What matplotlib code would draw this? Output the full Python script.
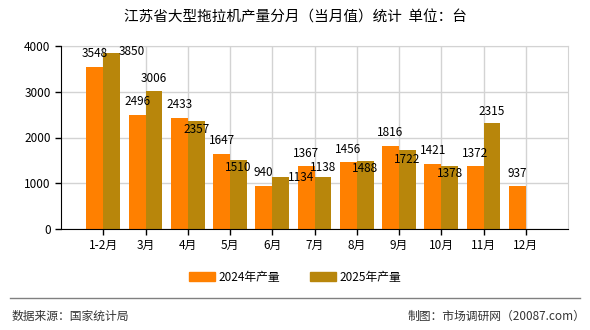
import numpy as np
import matplotlib.pyplot as plt
from matplotlib.patches import Patch

plt.rcParams['font.family'] = ['Noto Sans CJK SC', 'DejaVu Sans']

# Data
months = ['1-2月', '3月', '4月', '5月', '6月', '7月', '8月', '9月', '10月', '11月', '12月']
prod_2024 = [3548, 2496, 2433, 1647, 940, 1367, 1456, 1816, 1421, 1372, 937]
prod_2025 = [3850, 3006, 2357, 1510, 1134, 1138, 1488, 1722, 1378, 2315, None]

# label placement (pixel offsets for 2025 labels: dx, dy)
lab25_off = [(20, 1), (0, 13), (0, -8), (0, -8), (20, 0), (0, 9), (0, -8), (0, -9), (0, -8), (0, 12)]

c24 = '#FF8000'
c25 = '#B8860B'

fig = plt.figure(figsize=(5.9, 3.3), dpi=100)
ax = fig.add_axes([61 / 590, 1 - 229 / 330, 507 / 590, 183 / 330])

x = np.arange(len(months))
w = 0.4
ax.bar(x - w / 2, prod_2024, w, color=c24, zorder=3)
x25 = [i for i, v in enumerate(prod_2025) if v is not None]
v25 = [v for v in prod_2025 if v is not None]
ax.bar(np.array(x25) + w / 2, v25, w, color=c25, zorder=3)

for i, v in enumerate(prod_2024):
    ax.annotate(str(v), (i - w / 2, v), xytext=(0, 13), textcoords='offset pixels',
                ha='center', va='center', fontsize=8.5, zorder=5)
for (i, v), (dx, dy) in zip(zip(x25, v25), lab25_off):
    ax.annotate(str(v), (i + w / 2, v), xytext=(dx, dy), textcoords='offset pixels',
                ha='center', va='center', fontsize=8.5, zorder=5)

ax.set_xlim(-1, len(months))
ax.set_ylim(0, 4000)
ax.set_yticks(range(0, 4001, 1000))
ax.set_xticks(x)
ax.set_xticklabels(months, fontsize=8.5)
ax.tick_params(axis='y', labelsize=8.5, length=4, direction='out', width=1)
ax.tick_params(axis='x', length=4, direction='out', width=1)
ax.grid(True, color='#D3D3D3', lw=1, zorder=0)
for s in ['top', 'right']:
    ax.spines[s].set_color('#D3D3D3')
for s in ['left', 'bottom']:
    ax.spines[s].set_color('black')
ax.spines['left'].set_zorder(4)
ax.spines['bottom'].set_zorder(4)
ax.set_axisbelow(True)

fig.text(0.5, 1 - 18 / 330, '江苏省大型拖拉机产量分月（当月值）统计  单位：台',
         ha='center', va='center', fontsize=10.5)

handles = [Patch(color=c24, label='2024年产量'), Patch(color=c25, label='2025年产量')]
fig.legend(handles=handles, loc='center', bbox_to_anchor=(0.5, 1 - 277 / 330), ncol=2,
           frameon=False, fontsize=8.5, handlelength=2.2, handleheight=0.9, columnspacing=2.5,
           handletextpad=0.3)

fig.add_artist(plt.Line2D([10 / 590, 580 / 590], [1 - 298 / 330] * 2, color='#808080', lw=1))
fig.text(12 / 590, 1 - 316 / 330, '数据来源：国家统计局', ha='left', va='center', fontsize=8.5, color='#333333')
fig.text(585 / 590, 1 - 316 / 330, '制图：市场调研网（20087.com）', ha='right', va='center', fontsize=8.5, color='#333333')

fig.savefig('out.png', dpi=100)
